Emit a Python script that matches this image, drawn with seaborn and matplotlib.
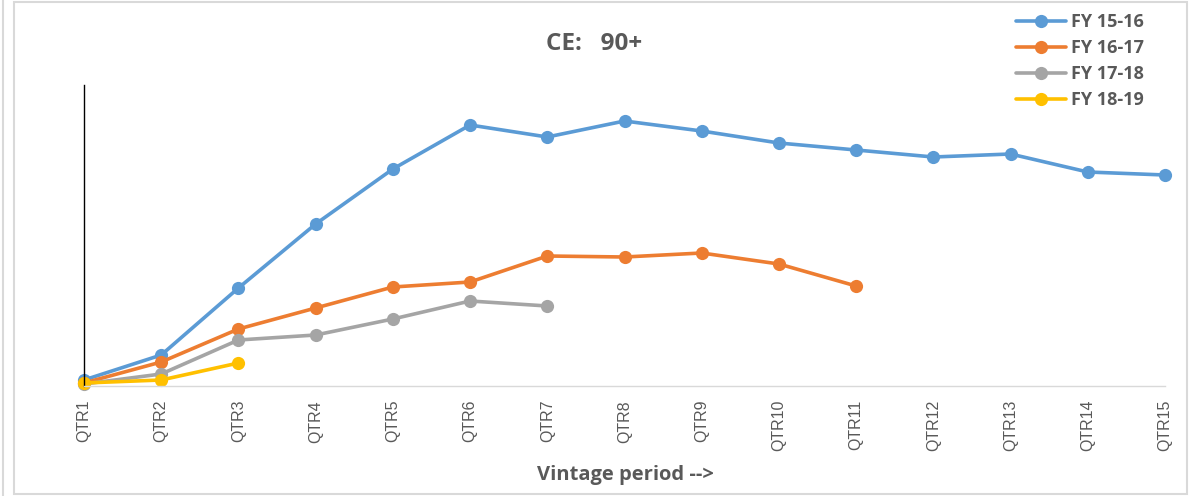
import matplotlib
matplotlib.use("Agg")
import matplotlib.pyplot as plt
from matplotlib.lines import Line2D
from matplotlib.patches import Rectangle
import seaborn as sns

# data (arbitrary units, no y scale shown)
quarters = [f"QTR{i}" for i in range(1, 16)]
fy_15_16 = [0.06, 0.31, 0.98, 1.62, 2.17, 2.61, 2.49, 2.65, 2.55, 2.43, 2.36, 2.29, 2.32, 2.14, 2.11]
fy_16_17 = [0.03, 0.24, 0.57, 0.78, 0.99, 1.04, 1.30, 1.29, 1.33, 1.22, 1.00]
fy_17_18 = [0.02, 0.12, 0.46, 0.51, 0.67, 0.85, 0.80]
fy_18_19 = [0.03, 0.06, 0.23]

series = [
    ("FY 15-16", fy_15_16, "#5B9BD5"),
    ("FY 16-17", fy_16_17, "#ED7D31"),
    ("FY 17-18", fy_17_18, "#A5A5A5"),
    ("FY 18-19", fy_18_19, "#FFC000"),
]

sns.set_style("white")
plt.rcParams["font.family"] = ["Liberation Sans", "DejaVu Sans"]
TXT = "#595959"

fig = plt.figure(figsize=(11.97, 4.96), dpi=100)
ax = fig.add_axes([84 / 1197, 110 / 496, 1081 / 1197, 301 / 496])

for name, vals, col in series:
    sns.lineplot(x=list(range(len(vals))), y=vals, ax=ax, color=col, lw=2.6,
                 marker="o", markersize=9.5, markeredgewidth=0, label=name,
                 clip_on=False)

ax.set_xlim(0, 14)
ax.set_ylim(0, 3.01)
ax.set_xticks(range(len(quarters)))
ax.set_xticklabels(quarters, rotation=90, fontsize=11.5, color=TXT)
ax.tick_params(axis="x", length=0, pad=10)
ax.set_yticks([])
ax.set_xlabel("")
ax.set_ylabel("")
for s in ["top", "right"]:
    ax.spines[s].set_visible(False)
ax.spines["bottom"].set_color("#D9D9D9")
ax.spines["bottom"].set_linewidth(1)
ax.spines["left"].set_color("black")
ax.spines["left"].set_linewidth(1)

fig.text(594 / 1197, 1 - 44 / 496, "CE:   90+", ha="center", va="center",
         fontsize=17.5, fontweight="bold", color=TXT, family="Open Sans")
fig.text(625 / 1197, 1 - 475 / 496, "Vintage period -->", ha="center", va="center",
         fontsize=14.5, fontweight="bold", color=TXT, family="Open Sans")

leg = ax.legend(loc="upper left", bbox_to_anchor=(1003 / 1197, 1 - 0.5 / 496),
                bbox_transform=fig.transFigure, frameon=False,
                prop={"family": "Open Sans", "weight": "bold", "size": 13},
                handlelength=2.8, handletextpad=0.25, labelspacing=0.44,
                borderpad=0.2)
for t in leg.get_texts():
    t.set_color(TXT)

# chart frame
fig.add_artist(Rectangle((14 / 1197, 2 / 496), (1187 - 14) / 1197, (494 - 2) / 496,
                         transform=fig.transFigure, fill=False,
                         edgecolor="#D9D9D9", lw=1.5))
fig.add_artist(Line2D([3 / 1197, 3 / 1197], [0, 1], transform=fig.transFigure,
                      color="#D9D9D9", lw=1.5))

fig.savefig("out.png", dpi=100)
